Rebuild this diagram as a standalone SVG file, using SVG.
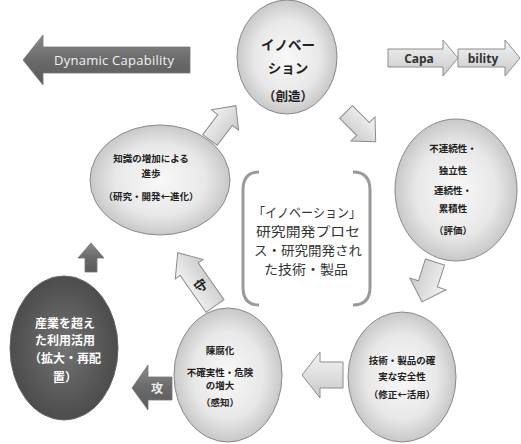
<svg xmlns="http://www.w3.org/2000/svg" width="521" height="444" viewBox="0 0 521 444">
<defs>
<radialGradient id="gLight" cx="0.5" cy="0.5" r="0.5">
<stop offset="0" stop-color="#f8f8f8"/><stop offset="0.65" stop-color="#e8e8e8"/><stop offset="1" stop-color="#c8c8c8"/>
</radialGradient>
<radialGradient id="gDark" cx="0.5" cy="0.5" r="0.5">
<stop offset="0" stop-color="#737373"/><stop offset="1" stop-color="#4c4c4c"/>
</radialGradient>
<linearGradient id="aLight" x1="0" y1="0" x2="0" y2="1">
<stop offset="0" stop-color="#f4f4f4"/><stop offset="1" stop-color="#c9c9c9"/>
</linearGradient>
<linearGradient id="aDark" x1="0" y1="0" x2="0" y2="1">
<stop offset="0" stop-color="#8a8a8a"/><stop offset="0.5" stop-color="#6a6a6a"/><stop offset="1" stop-color="#5a5a5a"/>
</linearGradient>
<style>
.el{fill:url(#gLight);stroke:#8a8a8a;stroke-width:1}
.ed{fill:url(#gDark);stroke:#666;stroke-width:1}
.al{fill:url(#aLight);stroke:#8c8c8c;stroke-width:1}
.ad{fill:url(#aDark);stroke:#777;stroke-width:0.8}
.jt{font-family:"Noto Sans CJK JP","Noto Sans",sans-serif;font-weight:bold;fill:#222;text-anchor:middle}
.wt{font-family:"Noto Sans CJK JP","Noto Sans",sans-serif;font-weight:bold;fill:#fff;text-anchor:middle}
.bt{font-family:"Noto Sans CJK JP",sans-serif;fill:#333;text-anchor:middle;font-size:13px}
.lt{font-family:"Open Sans","Liberation Sans",sans-serif;text-anchor:middle}
.br{fill:none;stroke:#9a9a9a;stroke-width:3}
</style>
</defs>

<g id="dynamic-capability">
<path class="ad" d="M23,60 L43,35 L43,47 L190,47 L190,73 L43,73 L43,85 Z"/>
<text class="lt" x="114" y="65" font-size="13" fill="#f2f2f2" textLength="120">Dynamic  Capability</text>
</g>

<g id="capa">
<path class="al" d="M388,49 L443,49 L443,40 L458,58 L443,76 L443,67 L388,67 Z"/>
<text class="lt" x="419" y="62.5" font-size="12" font-weight="bold" fill="#333">Capa</text>
</g>
<g id="bility">
<path class="al" d="M458,49 L505,49 L505,40 L520,58 L505,76 L505,67 L458,67 Z"/>
<text class="lt" x="483" y="62.5" font-size="12" font-weight="bold" fill="#333">bility</text>
</g>

<g id="connectors">
<path class="al" transform="translate(210,140) rotate(-53)" d="M0,-9 L25,-9 L25,-17 L43,0 L25,17 L25,9 L0,9 Z"/>
<path class="al" transform="translate(346,112) rotate(45)" d="M0,-9 L24,-9 L24,-17 L42,0 L24,17 L24,9 L0,9 Z"/>
<path class="al" transform="translate(435,262) rotate(108)" d="M0,-10 L23,-10 L23,-19 L42,0 L23,19 L23,10 L0,10 Z"/>
<path class="al" d="M302,375 L320,352 L320,362 L343,362 L343,388 L320,388 L320,398 Z"/>
<g transform="translate(215,306) rotate(-125)">
<path class="al" d="M0,-11 L45,-11 L45,-17 L65,0 L45,17 L45,11 L0,11 Z"/>
<text class="jt" x="25" y="5" font-size="13" transform="rotate(90 25 0)">守</text>
</g>
<path class="ad" d="M132,388 L148,365 L148,377 L172,377 L172,400 L148,400 L148,410 Z"/>
<text class="wt" x="157" y="393" font-size="12" style="fill:#eee">攻</text>
<path class="ad" d="M91,243 L104,258 L97,258 L97,272 L85,272 L85,258 L78,258 Z"/>
</g>

<g id="node-innovation">
<ellipse class="el" cx="287" cy="57" rx="50" ry="57"/>
<text class="jt" x="288" y="50" font-size="13.5">イノベー</text>
<text class="jt" x="288" y="73" font-size="13.5">ション</text>
<text class="jt" x="288" y="101" font-size="12.5">（創造）</text>
</g>

<g id="node-knowledge">
<ellipse class="el" cx="160" cy="180" rx="70" ry="55"/>
<text class="jt" x="151" y="162" font-size="9.5">知識の増加による</text>
<text class="jt" x="151" y="177" font-size="9.5">進歩</text>
<text class="jt" x="151" y="200" font-size="9.5">（研究・開発←進化）</text>
</g>

<g id="node-evaluation">
<ellipse class="el" cx="456" cy="190" rx="61" ry="71"/>
<text class="jt" x="453" y="152" font-size="9.5">不連続性・</text>
<text class="jt" x="453" y="174" font-size="9.5">独立性</text>
<text class="jt" x="453" y="194" font-size="9.5">連続性・</text>
<text class="jt" x="453" y="212" font-size="9.5">累積性</text>
<text class="jt" x="453" y="234" font-size="9.5">（評価）</text>
</g>

<g id="node-safety">
<ellipse class="el" cx="402" cy="377" rx="54" ry="65"/>
<text class="jt" x="402" y="364" font-size="9.5">技術・製品の確</text>
<text class="jt" x="402" y="380" font-size="9.5">実な安全性</text>
<text class="jt" x="402" y="398" font-size="9.5">（修正←活用）</text>
</g>

<g id="node-obsolescence">
<ellipse class="el" cx="228" cy="375" rx="54" ry="67"/>
<text class="jt" x="220" y="354" font-size="9.5">陳腐化</text>
<text class="jt" x="220" y="376" font-size="9.5">不確実性・危険</text>
<text class="jt" x="220" y="389" font-size="9.5">の増大</text>
<text class="jt" x="220" y="406" font-size="9.5">（感知）</text>
</g>

<g id="node-utilization">
<ellipse class="ed" cx="64" cy="348" rx="54" ry="72"/>
<text class="wt" x="65" y="328" font-size="12">産業を超え</text>
<text class="wt" x="65" y="345" font-size="12">た利用活用</text>
<text class="wt" x="65" y="363" font-size="12">（拡大・再配</text>
<text class="wt" x="65" y="382" font-size="12">置）</text>
</g>

<g id="node-center">
<path class="br" d="M259,172 Q243,172 243,190 V287 Q243,305 259,305"/>
<path class="br" d="M353,172 Q370,172 370,190 V287 Q370,305 353,305"/>
<text class="bt" x="307" y="217" textLength="108" lengthAdjust="spacingAndGlyphs">「イノベーション」</text>
<text class="bt" x="308" y="236" textLength="104" lengthAdjust="spacingAndGlyphs">研究開発プロセ</text>
<text class="bt" x="308" y="255" textLength="108" lengthAdjust="spacingAndGlyphs">ス・研究開発され</text>
<text class="bt" x="306" y="274" textLength="84" lengthAdjust="spacingAndGlyphs">た技術・製品</text>
</g>
</svg>
